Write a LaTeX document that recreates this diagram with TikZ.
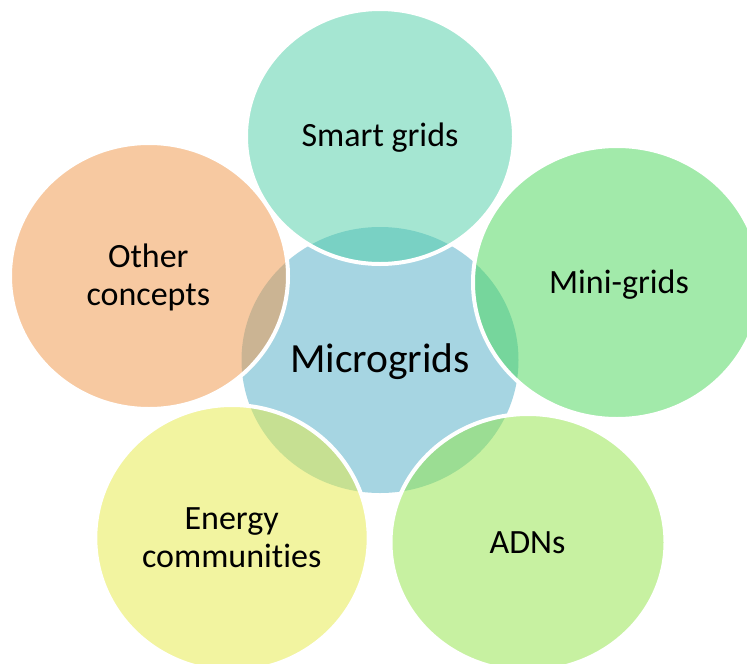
\documentclass[tikz,border=0pt]{standalone}
\usepackage{fontspec}
\setmainfont{Carlito}[Ligatures={NoCommon,NoContextual}]
\definecolor{cMicro}{RGB}{166,213,226}
\definecolor{cSmart}{RGB}{77,207,167}
\definecolor{cMini}{RGB}{71,215,87}
\definecolor{cADN}{RGB}{145,229,69}
\definecolor{cEnergy}{RGB}{231,235,67}
\definecolor{cOther}{RGB}{241,149,69}
\tikzset{
  outerdisc/.style={fill=#1, fill opacity=0.5, draw=white, draw opacity=1, line width=4pt},
  lbl/.style={font=\fontsize{34}{37.7}\selectfont, inner sep=0pt, anchor=base, text=black},
  biglbl/.style={font=\fontsize{41.5}{48}\selectfont, inner sep=0pt, anchor=base, text=black},
}
\begin{document}
\begin{tikzpicture}[x=1pt,y=-1pt]
\fill[white] (0,0) rectangle (747,664);
\clip (0,0) rectangle (747,664);
% central circle
\fill[cMicro] (380,360) ellipse [x radius=138.5pt, y radius=133pt];
% outer circles
\path[outerdisc=cSmart]  (380,136.5) ellipse [x radius=134pt, y radius=127.5pt];
\path[outerdisc=cMini]   (617,282.5) ellipse [x radius=144pt, y radius=136.5pt];
\path[outerdisc=cADN]    (528,542.5) ellipse [x radius=137.5pt, y radius=128.5pt];
\path[outerdisc=cEnergy] (232,538) ellipse [x radius=136.7pt, y radius=133pt];
\path[outerdisc=cOther]  (149,276) ellipse [x radius=139pt, y radius=133pt];
% labels
\node[biglbl] (micro) at (380,372.7) {Microgrids};
\node[lbl] (smart) at (380,146.7) {Smart grids};
\node[lbl] (mini) at (619,293.3) {Mini-grids};
\node[lbl] (adns) at (527.5,553.3) {ADNs};
\node[lbl] (other) at (148.3,267.7) {\begin{tabular}[t]{@{}c@{}}Other\\concepts\end{tabular}};
\node[lbl] (energy) at (231.7,529.3) {\begin{tabular}[t]{@{}c@{}}Energy\\communities\end{tabular}};
\end{tikzpicture}
\end{document}
